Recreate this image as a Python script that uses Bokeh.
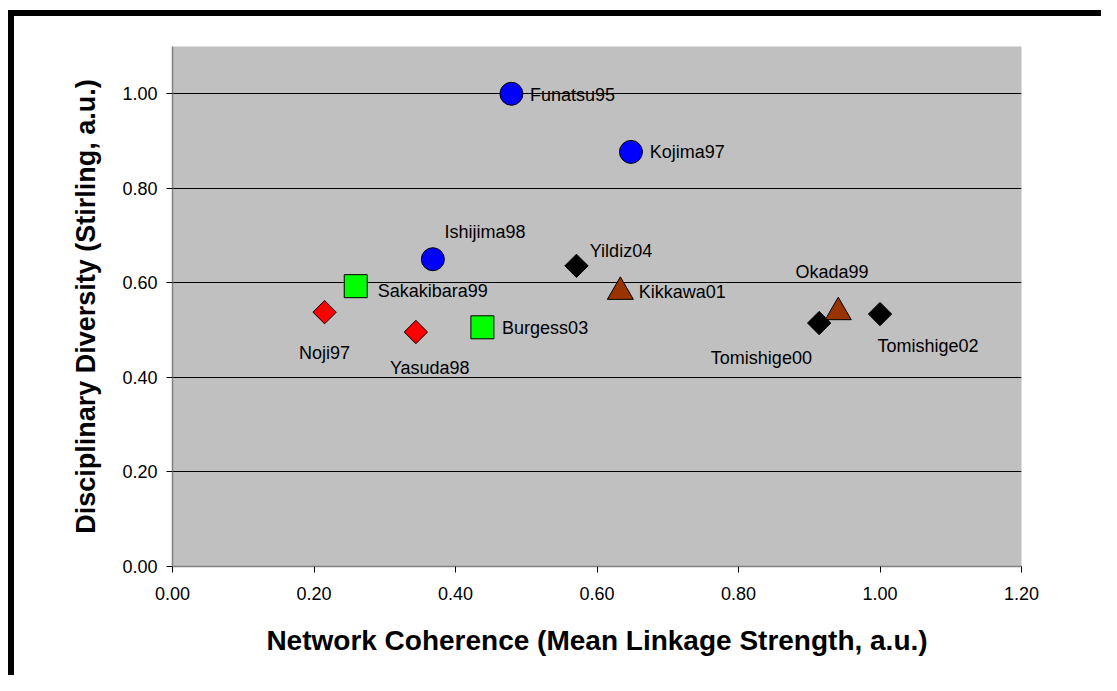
from bokeh.plotting import figure
from bokeh.models import ColumnDataSource, FixedTicker, NumeralTickFormatter
from bokeh.core.properties import value
from bokeh.embed import file_html
from bokeh.resources import INLINE

# ---- data ----
names = ["Funatsu95", "Kojima97", "Ishijima98", "Yildiz04", "Sakakibara99", "Kikkawa01",
         "Noji97", "Yasuda98", "Burgess03", "Tomishige00", "Okada99", "Tomishige02"]
coherence = [0.479, 0.648, 0.368, 0.571, 0.259, 0.633, 0.215, 0.344, 0.438, 0.914, 0.941, 1.000]
diversity = [1.000, 0.877, 0.650, 0.636, 0.593, 0.581, 0.538, 0.496, 0.506, 0.515, 0.538, 0.534]
group = ["blue", "blue", "blue", "black", "green", "brown",
         "red", "red", "green", "black", "brown", "black"]
x_ticks = [0.0, 0.2, 0.4, 0.6, 0.8, 1.0, 1.2]
y_ticks = [0.0, 0.2, 0.4, 0.6, 0.8, 1.0]

# ---- styles ----
STYLE = {
    "black": dict(marker="square", color="#000000", size=16.5, angle=0.785398),
    "red": dict(marker="square", color="#FF0000", size=16.5, angle=0.785398),
    "green": dict(marker="square", color="#00FF00", size=23, angle=0.0),
    "blue": dict(marker="circle", color="#0000FF", size=23, angle=0.0),
    "brown": dict(marker="triangle", color="#993300", size=26, angle=0.0),
}
DRAW_ORDER = ["black", "red", "green", "blue", "brown"]
LABEL_OFFSETS = {
    "Funatsu95": (18.6, 1), "Kojima97": (18.7, 0), "Ishijima98": (11.7, -27),
    "Yildiz04": (13.3, -14.6), "Sakakibara99": (22, 5.3), "Kikkawa01": (18.3, 0),
    "Noji97": (-25.7, 41), "Yasuda98": (-26, 36.4), "Burgess03": (19.7, 0.6),
    "Tomishige00": (-108.3, 35.4), "Okada99": (-42.7, -39.7), "Tomishige02": (-2.6, 31.7),
}
FONT = "Liberation Sans"

p = figure(width=1101, height=675, x_range=(0, 1.2), y_range=(0, 1.1),
           output_backend="svg", toolbar_location=None,
           min_border_left=172, min_border_right=80, min_border_top=46, min_border_bottom=109)
p.background_fill_color = "#C0C0C0"
p.border_fill_alpha = 0
p.outline_line_color = None
p.styles = {
    "background": "linear-gradient(#000,#000) 8px 10px / 100% 6px no-repeat, "
                  "linear-gradient(#000,#000) 8px 10px / 6px 100% no-repeat",
}

p.xgrid.visible = False
p.ygrid.ticker = FixedTicker(ticks=y_ticks)
p.ygrid.grid_line_color = "#000000"
p.ygrid.grid_line_width = 1

for ax, ticks in ((p.xaxis[0], x_ticks), (p.yaxis[0], y_ticks)):
    ax.ticker = FixedTicker(ticks=ticks)
    ax.formatter = NumeralTickFormatter(format="0.00")
    ax.axis_line_color = "#808080"
    ax.axis_line_width = 1.5
    ax.major_tick_line_color = "#000000"
    ax.major_tick_in = 0
    ax.major_tick_out = 6
    ax.minor_tick_line_color = None
    ax.major_label_text_font = FONT
    ax.major_label_text_font_size = "18px"
    ax.major_label_text_color = "#000000"
    ax.axis_label_text_font = FONT
    ax.axis_label_text_font_style = "bold"
    ax.axis_label_text_color = "#000000"

p.xaxis.axis_label_text_font_size = "28px"
p.yaxis.axis_label_text_font_size = "27px"
p.xaxis.axis_label = "Network Coherence (Mean Linkage Strength, a.u.)"
p.yaxis.axis_label = "Disciplinary Diversity (Stirling, a.u.)"
p.xaxis.major_label_standoff = 14
p.yaxis.major_label_standoff = 9
p.xaxis.axis_label_standoff = 22
p.yaxis.axis_label_standoff = 18

for g in DRAW_ORDER:
    idx = [i for i, gg in enumerate(group) if gg == g]
    src = ColumnDataSource(dict(x=[coherence[i] for i in idx], y=[diversity[i] for i in idx]))
    st = STYLE[g]
    p.scatter("x", "y", source=src, marker=st["marker"], size=st["size"], angle=st["angle"],
              fill_color=st["color"], line_color="#000000", line_width=1)

lab = ColumnDataSource(dict(
    x=coherence, y=diversity, text=names,
    dx=[LABEL_OFFSETS[n][0] for n in names],
    dy=[LABEL_OFFSETS[n][1] for n in names],
))
p.text("x", "y", text="text", source=lab, x_offset="dx", y_offset="dy",
       text_font=value(FONT), text_font_size="18px", text_color="#000000",
       text_align="left", text_baseline="middle")

open("out.html", "w").write(file_html(p, INLINE))
